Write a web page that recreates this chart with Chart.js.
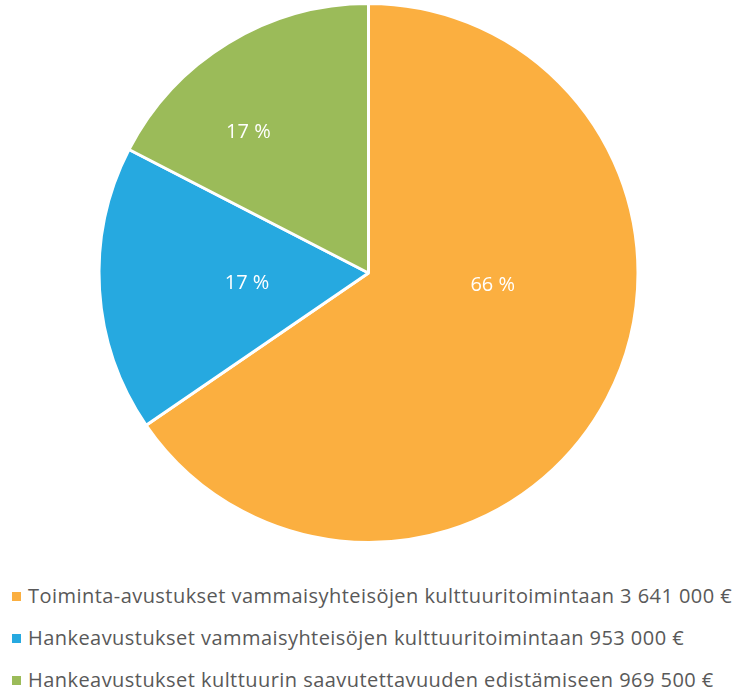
<!DOCTYPE html>
<html>
<head>
<meta charset="utf-8">
<script src="https://cdn.jsdelivr.net/npm/chart.js@4.4.1/dist/chart.umd.min.js"></script>
<style>
    html, body { margin: 0; padding: 0; background: #fff; }
    #wrap { position: relative; width: 737px; height: 548px; }
    #legend { margin: 27px 0 0 0; padding: 0; list-style: none; font-family: "Open Sans", sans-serif; font-size: 20px; letter-spacing: 0.45px; color: #595959; }
    #legend li { position: relative; height: 42px; line-height: 42px; padding-left: 28px; white-space: nowrap; }
    #legend li span { position: absolute; left: 12px; top: 17px; width: 9px; height: 9px; }
</style>
</head>
<body>
<div id="wrap"><canvas id="grants-chart" width="737" height="548"></canvas></div>
<ul id="legend"></ul>
<script>
var categories = [
    'Toiminta-avustukset vammaisyhteisöjen kulttuuritoimintaan 3 641 000 €',
    'Hankeavustukset vammaisyhteisöjen kulttuuritoimintaan 953 000 €',
    'Hankeavustukset kulttuurin saavutettavuuden edistämiseen 969 500 €'
];
var amounts = [3641000, 953000, 969500];
var pctLabels = ['66 %', '17 %', '17 %'];
var sliceColors = ['#FBAF40', '#26A9E0', '#9BBB59'];

var GrantsChart;

// white percentage labels inside the slices
var sliceLabels = {
    id: 'sliceLabels',
    afterDatasetsDraw: function (chart, args, opts) {
        var ctx = chart.ctx;
        var meta = chart.getDatasetMeta(0);
        ctx.save();
        ctx.fillStyle = '#ffffff';
        ctx.font = '20px "Open Sans", sans-serif';
        ctx.textAlign = 'center';
        ctx.textBaseline = 'middle';
        meta.data.forEach(function (arc, i) {
            var p = arc.tooltipPosition();
            var n = opts.nudge[i] || [0, 0];
            ctx.fillText(pctLabels[i], p.x + n[0], p.y + n[1]);
        });
        ctx.restore();
    }
};

function LoadGrantsChart() {
    var ctx = document.getElementById('grants-chart');
    if (GrantsChart) {
        GrantsChart.destroy();
    }
    GrantsChart = new Chart(ctx, {
        type: 'pie',
        data: {
            labels: categories,
            datasets: [{
                data: amounts,
                backgroundColor: sliceColors,
                borderColor: '#ffffff',
                borderWidth: 3
            }]
        },
        plugins: [sliceLabels],
        options: {
            responsive: false,
            animation: false,
            layout: { padding: { top: 2, bottom: 4 } },
            plugins: {
                legend: { display: false },
                tooltip: { enabled: false },
                sliceLabels: {
                    nudge: [[5, -51], [13, 2], [-50, -26]]
                }
            }
        }
    });

    var legend = document.getElementById('legend');
    for (var i = 0; i < categories.length; i++) {
        var li = document.createElement('li');
        var box = document.createElement('span');
        box.style.background = sliceColors[i];
        li.appendChild(box);
        li.appendChild(document.createTextNode(categories[i]));
        legend.appendChild(li);
    }
}

LoadGrantsChart();
</script>
</body>
</html>
